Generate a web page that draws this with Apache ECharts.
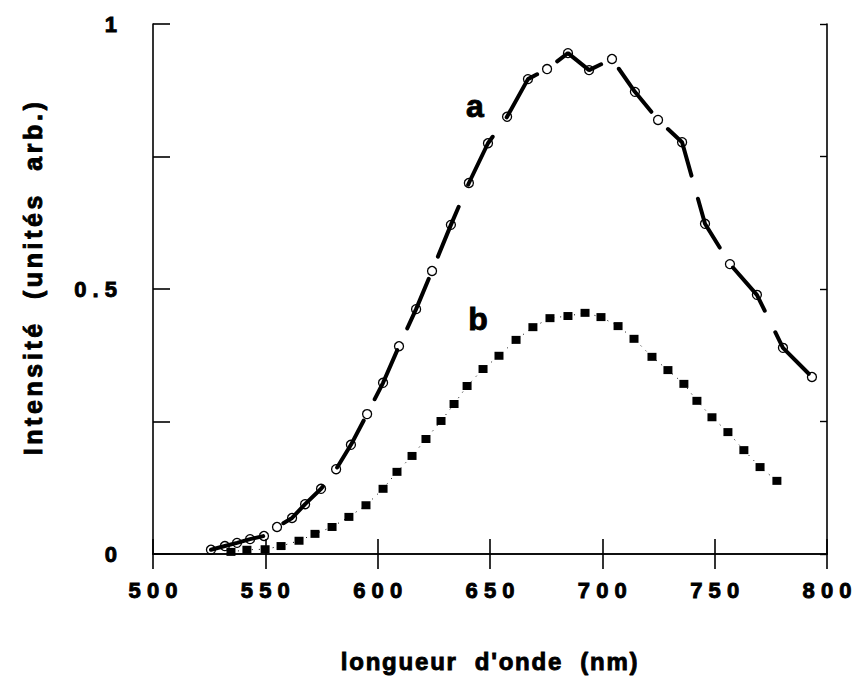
<!DOCTYPE html>
<html><head><meta charset="utf-8">
<script src="https://cdn.jsdelivr.net/npm/echarts@6/dist/echarts.min.js"></script>
<style>
html,body{margin:0;padding:0;background:#fff}
#c{width:868px;height:679px}
</style>
</head><body><div id="c"></div>
<script>
// Curve a (open circles, dashed line)
const wavelengthA = [525.8,532.0,537.4,543.2,549.4,555.2,561.9,567.7,574.8,581.5,588.1,595.3,602.4,609.5,617.1,624.2,632.6,640.6,649.1,657.6,666.9,675.4,684.7,694.1,704.3,714.5,724.8,735.5,745.7,756.8,768.8,780.4,793.3];
const intensityA = [0.008,0.015,0.021,0.028,0.034,0.051,0.068,0.094,0.123,0.160,0.206,0.264,0.323,0.392,0.462,0.534,0.621,0.700,0.775,0.825,0.896,0.915,0.945,0.913,0.934,0.872,0.819,0.777,0.623,0.547,0.489,0.389,0.334];
// Curve b (filled squares, dotted line)
const wavelengthB = [534.7,541.8,549.9,557.0,565.0,572.1,579.7,587.2,594.8,602.4,608.6,615.3,621.5,628.2,634.0,639.8,646.9,654.0,661.6,669.1,676.7,684.7,692.3,699.4,707.0,714.1,722.1,729.2,736.3,742.1,748.8,755.9,763.0,770.2,777.7];
const intensityB = [0.004,0.008,0.009,0.015,0.025,0.038,0.051,0.070,0.092,0.123,0.155,0.185,0.217,0.251,0.283,0.317,0.349,0.374,0.404,0.428,0.445,0.449,0.455,0.447,0.430,0.406,0.372,0.347,0.321,0.289,0.258,0.230,0.196,0.164,0.138];
// Tick labels
const xTickValues = [500,550,600,650,700,750,800];
const xTickLabels = ['5 0 0','5 5 0','6 0 0','6 5 0','7 0 0','7 5 0','8 0 0'];
const yTickValues = [0,0.5,1];
const yTickLabels = ['0','0 . 5','1'];
const xName = "longueur  d'onde  (nm)";
const yName = 'Intensité  (unités  arb.)';
const curveLabels = ['a','b'];
const labelPosA = [643.3,0.845];
const labelPosB = [644.7,0.443];

const FONT = 'Liberation Sans, Arial, Helvetica, sans-serif';
const zipXY = (xs, ys) => xs.map((x, i) => [x, ys[i]]);

const chart = echarts.init(document.getElementById('c'), null, {renderer: 'svg'});
const lineAx = {show: true, lineStyle: {color: '#000', width: 1.6}};
const heavy = {color: '#000', fontFamily: FONT, fontWeight: 'bold', textBorderColor: '#000', textBorderWidth: 0.9};
const tickFont = Object.assign({fontSize: 22}, heavy);
const option = {
  backgroundColor: '#fff',
  animation: false,
  grid: {left: 153, right: 41, top: 24, bottom: 125, containLabel: false},
  xAxis: [{
    type: 'value', min: 500, max: 800, interval: 50, position: 'bottom',
    axisLine: lineAx,
    axisTick: {show: true, inside: true, length: 15, lineStyle: {color: '#000', width: 1.6}},
    splitLine: {show: false},
    axisLabel: Object.assign({margin: 25,
      formatter: v => { const i = xTickValues.indexOf(v); return i >= 0 ? xTickLabels[i] : ''; }}, tickFont),
    name: xName, nameLocation: 'middle', nameGap: 95,
    nameTextStyle: Object.assign({fontSize: 24}, heavy)
  }, {
    type: 'value', min: 500, max: 800, interval: 50, position: 'top',
    axisLine: lineAx,
    axisTick: {show: true, inside: true, length: 15, lineStyle: {color: '#000', width: 1.6}},
    splitLine: {show: false}, axisLabel: {show: false}
  }],
  yAxis: [{
    type: 'value', min: 0, max: 1, interval: 0.25, position: 'left',
    axisLine: lineAx,
    axisTick: {show: true, inside: true, length: 17, lineStyle: {color: '#000', width: 1.6}},
    splitLine: {show: false},
    axisLabel: Object.assign({margin: 36,
      formatter: v => { const i = yTickValues.findIndex(t => Math.abs(t - v) < 1e-9); return i >= 0 ? yTickLabels[i] : ''; }}, tickFont),
    name: yName, nameLocation: 'middle', nameGap: 108, nameRotate: 90,
    nameTextStyle: Object.assign({fontSize: 25, padding: [0, 0, 0, 24]}, heavy)
  }, {
    type: 'value', min: 0, max: 1, interval: 0.25, position: 'right',
    axisLine: lineAx,
    axisTick: {show: true, inside: true, length: 7, lineStyle: {color: '#000', width: 1.4}},
    splitLine: {show: false}, axisLabel: {show: false}
  }],
  series: [{
    type: 'line', name: 'b', data: zipXY(wavelengthB, intensityB),
    symbol: 'rect', symbolSize: [9, 8],
    itemStyle: {color: '#000'},
    lineStyle: {color: '#000', width: 1, type: [1, 6]},
    markPoint: {
      symbol: 'circle', symbolSize: 1, itemStyle: {color: 'rgba(0,0,0,0)'},
      label: Object.assign({show: true, position: 'inside', fontSize: 32, formatter: p => p.name}, heavy),
      data: [{name: curveLabels[1], coord: labelPosB}]
    }
  }, {
    type: 'line', name: 'a', data: zipXY(wavelengthA, intensityA),
    symbol: 'circle', symbolSize: 9,
    itemStyle: {color: 'rgba(255,255,255,0)', borderColor: '#000', borderWidth: 1.3},
    lineStyle: {color: '#000', width: 4, type: [54, 24], dashOffset: 0, cap: 'round'},
    markPoint: {
      symbol: 'circle', symbolSize: 1, itemStyle: {color: 'rgba(0,0,0,0)'},
      label: Object.assign({show: true, position: 'inside', fontSize: 32, formatter: p => p.name}, heavy),
      data: [{name: curveLabels[0], coord: labelPosA}]
    }
  }]
};
chart.setOption(option);
function applySpacing() {
  document.querySelectorAll('#c text').forEach(t => {
    const s = t.textContent;
    if (s === xName) t.style.letterSpacing = '1.8px';
    else if (s === yName) t.style.letterSpacing = '3.6px';
  });
}
chart.on('finished', applySpacing);
applySpacing();
</script>
</body></html>
